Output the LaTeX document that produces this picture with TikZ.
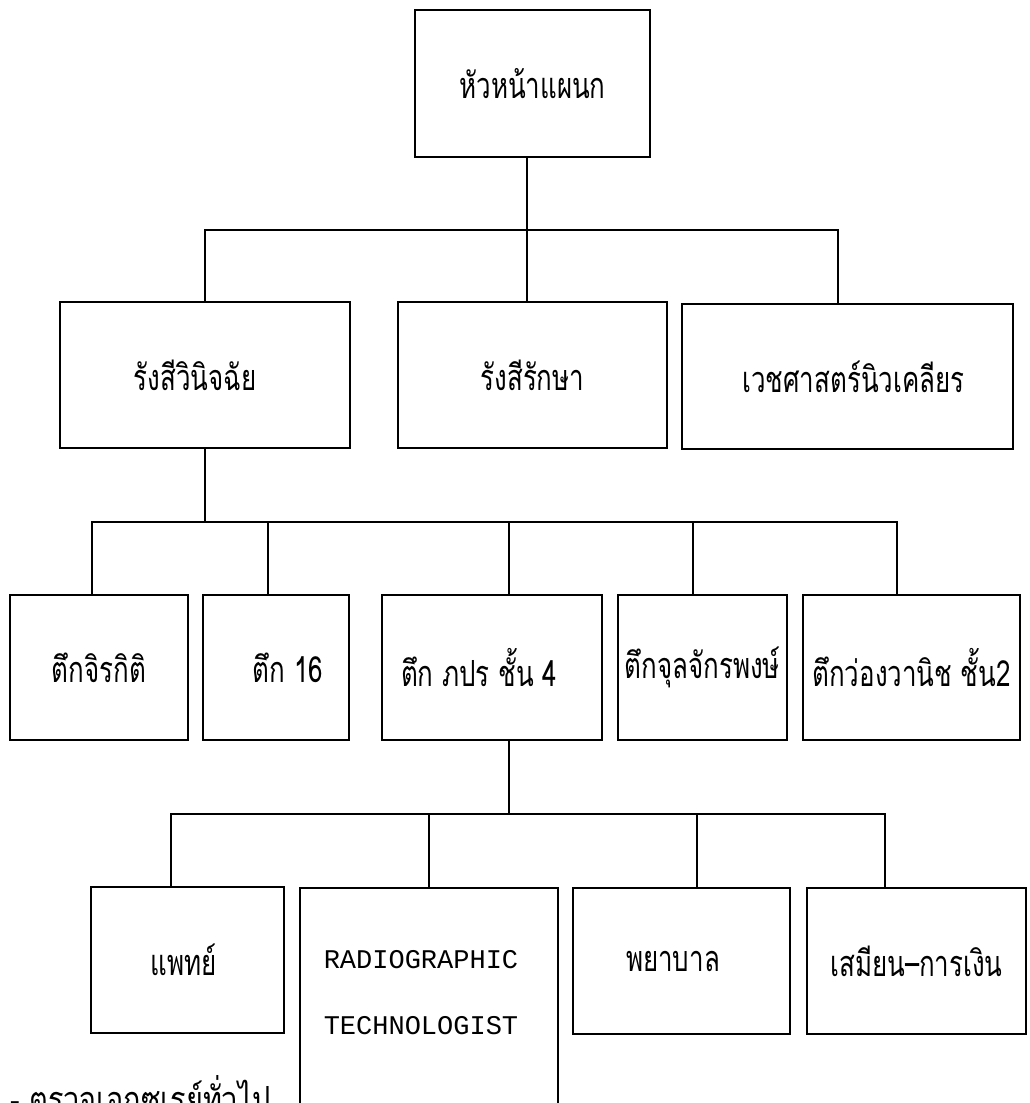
\documentclass[tikz,border=0pt]{standalone}
\usepackage{fontspec}
\newfontfamily\thaifont[Script=Thai, FakeStretch=0.72]{Loma}
\newfontfamily\notefont[Script=Thai, FakeStretch=0.8]{Loma}
\newfontfamily\engmono{Liberation Mono}
\begin{document}
\begin{tikzpicture}[x=1pt,y=-1pt,
  box/.style={draw, line width=1.5pt, inner sep=0pt, font=\thaifont\fontsize{36}{40}\selectfont},
  lnk/.style={line width=1.5pt},
  eng/.style={font=\engmono\fontsize{27}{30}\selectfont, align=center}]
\useasboundingbox (0,0) rectangle (1029,1103);
\clip (0,0) rectangle (1029,1103);
% level 1
\node[box, minimum width=235pt, minimum height=147pt] (head) at (532.5,83.5) {หัวหน้าแผนก};
% level 2
\node[box, minimum width=290pt, minimum height=146pt] (rd) at (205,375) {รังสีวินิจฉัย\hspace*{20pt}};
\node[box, minimum width=269pt, minimum height=146pt] (rt) at (532.5,375) {รังสีรักษา};
\node[box, minimum width=331pt, minimum height=145pt] (nm) at (847.5,376.5) {\hspace*{12pt}เวชศาสตร์นิวเคลียร};
% level 3
\node[box, minimum width=178pt, minimum height=145pt] (ba) at (99,667.5) {ตึกจิรกิติ};
\node[box, minimum width=146pt, minimum height=145pt] (bb) at (276,667.5) {\hspace*{24pt}ตึก 16};
\node[box, minimum width=220pt, minimum height=145pt] (bc) at (492,667.5) {ตึก ภปร ชั้น 4\hspace*{26pt}};
\node[box, minimum width=169pt, minimum height=145pt] (bd) at (702.5,667.5) {ตึกจุลจักรพงษ์};
\node[box, minimum width=217pt, minimum height=145pt] (be) at (911.5,667.5) {ตึกว่องวานิช ชั้น2};
% level 4
\node[box, minimum width=193pt, minimum height=146pt] (pt) at (187.5,960) {แพทย์\hspace*{8pt}};
\node[box, minimum width=258pt, minimum height=260pt, anchor=north] (rg) at (429,887) {};
\node[eng] (rgt) at (421,993) {RADIOGRAPHIC\\[36pt]TECHNOLOGIST};
\node[box, minimum width=217pt, minimum height=146pt] (ns) at (681.5,961) {พยาบาล\hspace*{17pt}};
\node[box, minimum width=219pt, minimum height=146pt] (cl) at (916.5,961) {เสมียน–การเงิน};
% bottom note
\node[font=\notefont\fontsize{36}{40}\selectfont, anchor=base west, inner sep=0pt] (note) at (10,1112) {- ตรวจเอกซเรย์ทั่วไป};
% connectors
\coordinate (bus2) at (205,230);
\coordinate (bus3) at (205,522);
\coordinate (bus4) at (509,814);
\draw[lnk] ([xshift=-5.5pt]head.south) -- ([xshift=-5.5pt]rt.north);
\draw[lnk] (rd.north) -- (bus2) -| ([xshift=-9.5pt]nm.north);
\draw[lnk] (rd.south) -- (bus3);
\draw[lnk] ([xshift=-7pt]ba.north) |- (bus3) -| ([xshift=-14.5pt]be.north);
\draw[lnk] ([xshift=-8pt]bb.north) |- (bus3);
\draw[lnk] ([xshift=17pt]bc.north) |- (bus3);
\draw[lnk] ([xshift=-9.5pt]bd.north) |- (bus3);
\draw[lnk] ([xshift=17pt]bc.south) -- (bus4);
\draw[lnk] ([xshift=-16.5pt]pt.north) |- (bus4) -| ([xshift=-31.5pt]cl.north);
\draw[lnk] (rg.north) |- (bus4);
\draw[lnk] ([xshift=15.5pt]ns.north) |- (bus4);
\end{tikzpicture}
\end{document}
